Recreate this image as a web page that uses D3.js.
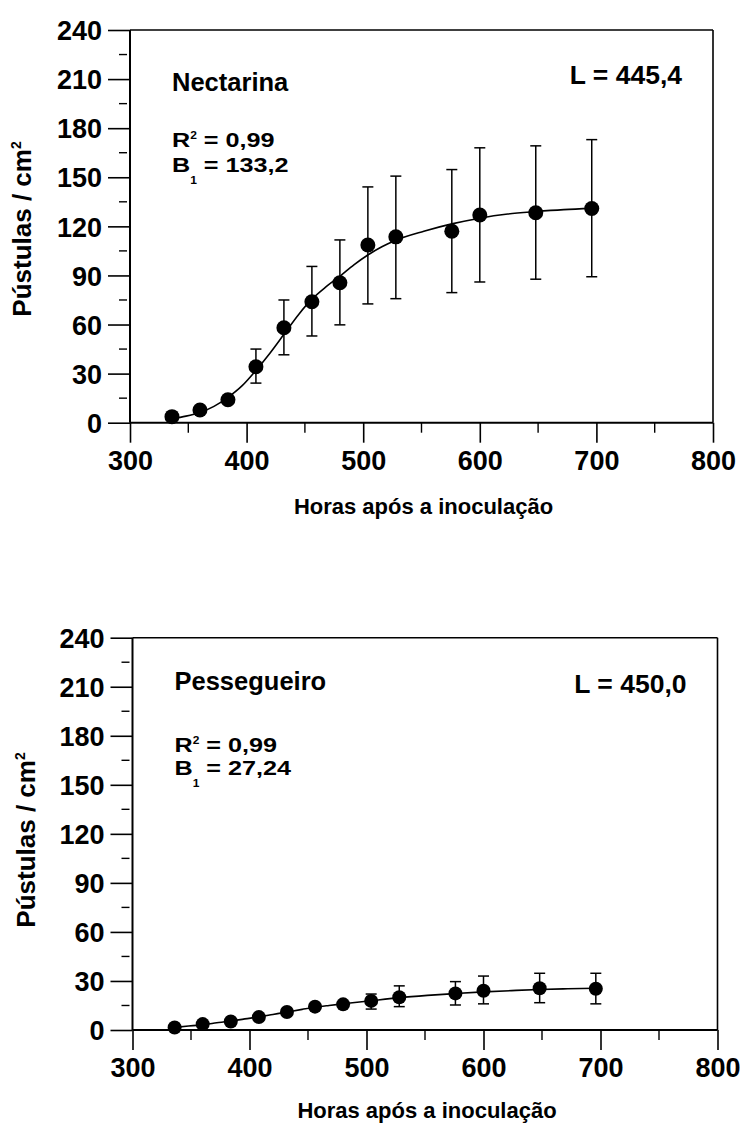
<!DOCTYPE html>
<html><head><meta charset="utf-8">
<script src="https://cdn.jsdelivr.net/npm/d3@7"></script>
<style>
html,body{margin:0;padding:0;background:#fff;}
text{font-family:"Liberation Sans",Arial,Helvetica,sans-serif;font-weight:bold;fill:#000;}
</style></head>
<body><div id="chart"></div>
<script>
// ---------- data ----------
const hours = [336, 360, 384, 408, 432, 456, 480, 504, 528, 576, 600, 648, 696];

const nectarinaMean  = [3.7, 7.8, 14, 34.2, 58, 73.9, 85.5, 108.6, 113.6, 117, 126.9, 128.3, 130.9];
const nectarinaUpper = [null, null, null, 45, 75, 95.5, 111.7, 144.1, 150.7, 154.7, 168, 169.2, 173];
const nectarinaLower = [null, null, null, 24.2, 41.5, 53, 59.8, 72.6, 75.8, 79.5, 86, 87.7, 89.2];

const pessegueiroMean  = [1.5, 3.6, 5.2, 7.9, 11, 14.3, 15.7, 17.8, 20, 22.4, 24, 25.5, 25.2];
const pessegueiroUpper = [null, null, null, null, null, null, null, 22, 27, 29.6, 33, 34.7, 34.7];
const pessegueiroLower = [null, null, null, null, null, null, null, 12.8, 14.3, 15.3, 16, 16.7, 16];

// fitted curves
const fitHours       = [336, 348, 360, 372, 384, 396, 408, 420, 432, 445, 456, 468, 480, 492, 504, 516, 528, 552, 576, 600, 624, 648, 672, 696];
const nectarinaFit   = [2.5, 4, 6.3, 10, 15.5, 22.5, 32, 42.5, 54, 66.5, 75.5, 83, 89.5, 96.5, 102.5, 107.5, 111.5, 117, 121.5, 125, 127.5, 129, 130.2, 131];
const pessegueiroFit = [1.6, 2.4, 3.3, 4.4, 5.5, 6.8, 8, 9.5, 11, 12.6, 13.9, 15, 16, 17, 17.9, 18.9, 19.8, 21.2, 22.3, 23.3, 24.1, 24.8, 25.2, 25.5];

const xTicks = [300, 400, 500, 600, 700, 800];
const xMinorTicks = [350, 450, 550, 650, 750];
const yTicks = [0, 30, 60, 90, 120, 150, 180, 210, 240];
const yMinorTicks = [15, 45, 75, 105, 135, 165, 195, 225];

const panelNames = ["Nectarina", "Pessegueiro"];
const panelR2 = ["0,99", "0,99"];
const panelB1 = ["133,2", "27,24"];
const panelL = ["L = 445,4", "L = 450,0"];
const xTitle = "Horas após a inoculação";

// ---------- layout ----------
const W = 740, H = 1125;
const svg = d3.select("#chart").append("svg").attr("width", W).attr("height", H);

const panels = [
  {left:130, right:713, top:30, bottom:422.7, name:panelNames[0], r2:panelR2[0], b1:panelB1[0], L:panelL[0],
   mean:nectarinaMean, up:nectarinaUpper, lo:nectarinaLower, fit:nectarinaFit,
   nameY:91, r2Y:147, b1Y:172, LY:84, xTitleY:514, yTitleX:31, yTitleY:229, r:7.5},
  {left:132.5, right:717.5, top:637.7, bottom:1030, name:panelNames[1], r2:panelR2[1], b1:panelB1[1], L:panelL[1],
   mean:pessegueiroMean, up:pessegueiroUpper, lo:pessegueiroLower, fit:pessegueiroFit,
   nameY:690, r2Y:752, b1Y:775, LY:693, xTitleY:1118, yTitleX:35, yTitleY:840, r:7}
];

panels.forEach(p => {
  const x = d3.scaleLinear().domain([300, 800]).range([p.left, p.right]);
  const y = d3.scaleLinear().domain([0, 240]).range([p.bottom, p.top]);
  const g = svg.append("g");

  // frame: top & right
  g.append("line").attr("x1", p.left).attr("x2", p.right).attr("y1", p.top).attr("y2", p.top)
    .attr("stroke", "#000").attr("stroke-width", 1.6);
  g.append("line").attr("x1", p.right).attr("x2", p.right).attr("y1", p.top).attr("y2", p.bottom)
    .attr("stroke", "#000").attr("stroke-width", 1.6);

  // y axis
  const yAxis = d3.axisLeft(y).tickValues(yTicks).tickSize(22).tickPadding(6).tickFormat(d3.format("d"));
  const ya = g.append("g").attr("transform", `translate(${p.left},0)`).call(yAxis);
  ya.select(".domain").attr("stroke-width", 2).attr("d", `M0,${p.top}V${p.bottom}`);
  ya.selectAll(".tick line").attr("stroke-width", 1.6);
  ya.selectAll(".tick text").style("font-size", "27px").style("font-family", "Liberation Sans, Arial, sans-serif")
    .style("font-weight", "bold").attr("x", -28).attr("dy", "0.36em");
  g.selectAll(".ymin").data(yMinorTicks).enter().append("line")
    .attr("x1", p.left - 11).attr("x2", p.left - 3)
    .attr("y1", d => y(d)).attr("y2", d => y(d))
    .attr("stroke", "#000").attr("stroke-width", 1.4);

  // x axis
  const xAxis = d3.axisBottom(x).tickValues(xTicks).tickSize(20).tickPadding(8).tickFormat(d3.format("d"));
  const xa = g.append("g").attr("transform", `translate(0,${p.bottom})`).call(xAxis);
  xa.select(".domain").attr("stroke-width", 2).attr("d", `M${p.left},0H${p.right}`);
  xa.selectAll(".tick line").attr("stroke-width", 1.6);
  xa.selectAll(".tick text").style("font-size", "27px").style("font-family", "Liberation Sans, Arial, sans-serif")
    .style("font-weight", "bold").attr("y", 47).attr("dy", 0);
  g.selectAll(".xmin").data(xMinorTicks).enter().append("line")
    .attr("x1", d => x(d)).attr("x2", d => x(d))
    .attr("y1", p.bottom).attr("y2", p.bottom + 10)
    .attr("stroke", "#000").attr("stroke-width", 1.4);

  // fitted curve
  const line = d3.line().x((d, i) => x(fitHours[i])).y(d => y(d)).curve(d3.curveMonotoneX);
  g.append("path").datum(p.fit).attr("d", line).attr("fill", "none").attr("stroke", "#000").attr("stroke-width", 1.6);

  // error bars
  const eb = hours.map((h, i) => ({h, up:p.up[i], lo:p.lo[i]})).filter(d => d.up != null);
  g.selectAll(".eb").data(eb).enter().append("line")
    .attr("x1", d => x(d.h)).attr("x2", d => x(d.h))
    .attr("y1", d => y(d.up)).attr("y2", d => y(d.lo))
    .attr("stroke", "#000").attr("stroke-width", 1.5);
  ["up", "lo"].forEach(k => {
    g.selectAll(".cap" + k).data(eb).enter().append("line")
      .attr("x1", d => x(d.h) - 5.5).attr("x2", d => x(d.h) + 5.5)
      .attr("y1", d => y(d[k])).attr("y2", d => y(d[k]))
      .attr("stroke", "#000").attr("stroke-width", 1.5);
  });

  // points
  g.selectAll(".pt").data(p.mean).enter().append("circle")
    .attr("cx", (d, i) => x(hours[i])).attr("cy", d => y(d)).attr("r", p.r).attr("fill", "#000");

  // annotations
  g.append("text").attr("x", p.left + 42).attr("y", p.nameY).style("font-size", "25.5px").text(p.name);
  const r2 = g.append("text").attr("transform", `translate(${p.left + 42},${p.r2Y}) scale(1.2,1)`)
    .style("font-size", "21px");
  r2.append("tspan").text("R");
  r2.append("tspan").attr("dy", -8).style("font-size", "10px").text("2");
  r2.append("tspan").attr("dy", 8).text(" = " + p.r2);
  const b1 = g.append("text").attr("transform", `translate(${p.left + 42},${p.b1Y}) scale(1.2,1)`)
    .style("font-size", "21px");
  b1.append("tspan").text("B");
  b1.append("tspan").attr("dy", 12).style("font-size", "10px").text("1");
  b1.append("tspan").attr("dy", -12).text(" = " + p.b1);
  g.append("text").attr("x", p.right - 31).attr("y", p.LY).attr("text-anchor", "end").style("font-size", "26.5px").text(p.L);

  // axis titles
  g.append("text").attr("x", (p.left + p.right) / 2 + 2).attr("y", p.xTitleY).attr("text-anchor", "middle")
    .style("font-size", "22px").text(xTitle);
  const yt = g.append("text").attr("transform", `translate(${p.yTitleX},${p.yTitleY}) rotate(-90)`)
    .attr("text-anchor", "middle").style("font-size", "26px");
  yt.append("tspan").text("Pústulas / cm");
  yt.append("tspan").attr("dy", -10).style("font-size", "14px").text("2");
});
</script>
</body></html>
